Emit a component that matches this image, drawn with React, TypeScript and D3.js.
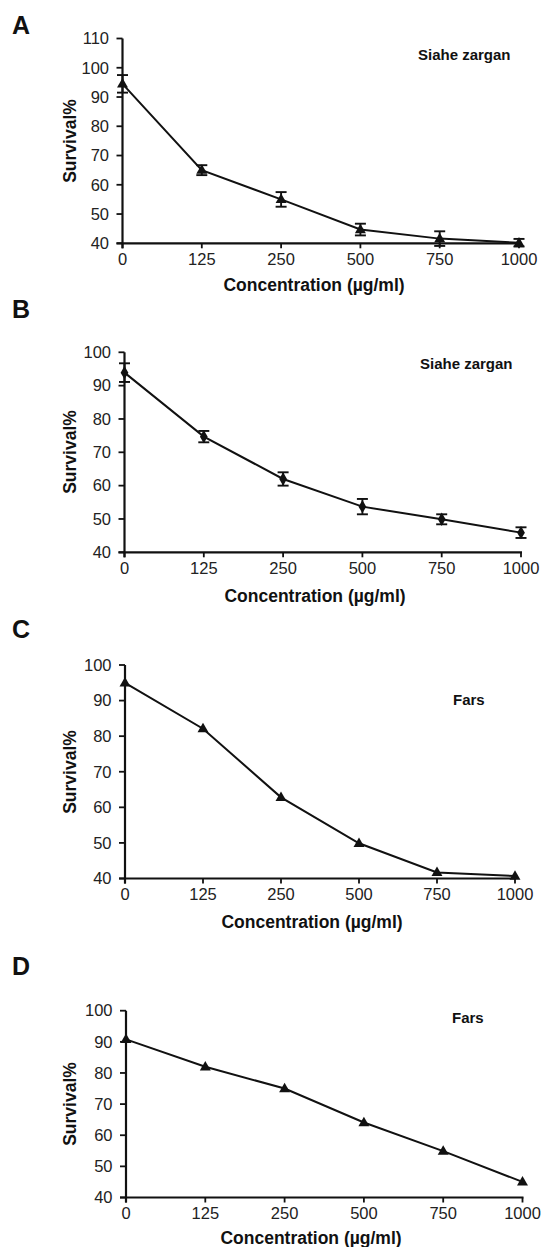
import React from "react";
import * as d3 from "d3";

const concentrations = ["0", "125", "250", "500", "750", "1000"];
const survivalA = [94.5, 65, 55, 44.7, 41.6, 40.2];
const errorA = [3, 1.7, 2.5, 2, 2.5, 1.3];
const survivalB = [93.9, 74.7, 62, 53.7, 49.9, 45.9];
const errorB = [2.8, 1.7, 2, 2.3, 1.5, 1.6];
const survivalC = [95, 82.1, 62.8, 49.9, 41.7, 40.7];
const survivalD = [90.8, 82, 75, 64.1, 54.9, 45];
const yTicksA = [40, 50, 60, 70, 80, 90, 100, 110];
const yTicks = [40, 50, 60, 70, 80, 90, 100];
const panelLetters = ["A", "B", "C", "D"];
const panelNotes = ["Siahe zargan", "Siahe zargan", "Fars", "Fars"];
const xTitle = "Concentration (\u00b5g/ml)";
const yTitle = "Survival%";

const FONT = "'Liberation Sans', Arial, Helvetica, sans-serif";

type PanelProps = {
  letter: string;
  note: string;
  values: number[];
  errors?: number[];
  ticks: number[];
  marker: "triangle" | "diamond";
  letterY: number;
  x0: number;
  x1: number;
  yTop: number;
  yBottom: number;
  noteX: number;
  noteY: number;
  titleX: number;
  titleY: number;
  yTitleY: number;
};

function Panel(p: PanelProps) {
  const x = d3.scalePoint<string>().domain(concentrations).range([p.x0, p.x1]);
  const yMax = p.ticks[p.ticks.length - 1];
  const y = d3.scaleLinear().domain([40, yMax]).range([p.yBottom, p.yTop]);
  const line = d3
    .line<number>()
    .x((_, i) => x(concentrations[i]) as number)
    .y((d) => y(d));
  const sym = d3
    .symbol()
    .type(p.marker === "triangle" ? d3.symbolTriangle : d3.symbolDiamond)
    .size(52)();
  const capW = 5.5;
  return (
    <g>
      <text x={12} y={p.letterY} fontFamily={FONT} fontWeight="bold" fontSize={25} fill="#111">
        {p.letter}
      </text>
      <line x1={p.x0} x2={p.x0} y1={p.yTop} y2={p.yBottom + 5} stroke="#111" strokeWidth={2.2} />
      {p.ticks.map((t) => (
        <g key={"yt" + t}>
          <line x1={p.x0 - 6} x2={p.x0} y1={y(t)} y2={y(t)} stroke="#111" strokeWidth={1.8} />
          <text
            x={p.x0 - 13.5}
            y={y(t)}
            dy="0.35em"
            textAnchor="end"
            fontFamily={FONT}
            fontSize={16.5}
            fill="#222"
          >
            {t}
          </text>
        </g>
      ))}
      <line x1={p.x0 - 6} x2={p.x1 + 1} y1={p.yBottom} y2={p.yBottom} stroke="#111" strokeWidth={2.2} />
      {concentrations.map((c) => (
        <g key={"xt" + c}>
          <line x1={x(c)} x2={x(c)} y1={p.yBottom} y2={p.yBottom + 5} stroke="#111" strokeWidth={1.8} />
          <text
            x={x(c)}
            y={p.yBottom + 16}
            dy="0.35em"
            textAnchor="middle"
            fontFamily={FONT}
            fontSize={16.5}
            fill="#222"
          >
            {c}
          </text>
        </g>
      ))}
      <text
        x={p.titleX}
        y={p.titleY}
        dy="0.35em"
        textAnchor="middle"
        fontFamily={FONT}
        fontWeight="bold"
        fontSize={17.5}
        fill="#111"
      >
        {xTitle}
      </text>
      <text
        transform={`translate(70,${p.yTitleY}) rotate(-90)`}
        dy="0.35em"
        textAnchor="middle"
        fontFamily={FONT}
        fontWeight="bold"
        fontSize={17.5}
        fill="#111"
      >
        {yTitle}
      </text>
      <text x={p.noteX} y={p.noteY} dy="0.35em" fontFamily={FONT} fontWeight="bold" fontSize={15} fill="#111">
        {p.note}
      </text>
      <path d={line(p.values) || ""} fill="none" stroke="#111" strokeWidth={2} />
      {p.errors &&
        p.values.map((v, i) => {
          const cx = x(concentrations[i]) as number;
          const e = p.errors![i];
          const top = y(v + e);
          const bot = y(v - e);
          return (
            <g key={"e" + i} stroke="#111" strokeWidth={1.9}>
              <line x1={cx} x2={cx} y1={top} y2={bot} />
              <line x1={cx - capW} x2={cx + capW} y1={top} y2={top} />
              <line x1={cx - capW} x2={cx + capW} y1={bot} y2={bot} />
            </g>
          );
        })}
      {p.values.map((v, i) => (
        <path
          key={"m" + i}
          d={sym || ""}
          transform={`translate(${x(concentrations[i])},${y(v) + (p.marker === "triangle" ? 0.5 : 0)})`}
          fill="#111"
        />
      ))}
    </g>
  );
}

export default function App() {
  return (
    <svg
      width={542}
      height={1247}
      style={{ position: "absolute", left: 0, top: 0, background: "#fff" }}
    >
      <rect width={542} height={1247} fill="#fff" />
      <Panel
        letter={panelLetters[0]}
        note={panelNotes[0]}
        values={survivalA}
        errors={errorA}
        ticks={yTicksA}
        marker="triangle"
        letterY={34}
        x0={122.5}
        x1={519}
        yTop={38.5}
        yBottom={243.3}
        noteX={418}
        noteY={55}
        titleX={314}
        titleY={285}
        yTitleY={141}
      />
      <Panel
        letter={panelLetters[1]}
        note={panelNotes[1]}
        values={survivalB}
        errors={errorB}
        ticks={yTicks}
        marker="diamond"
        letterY={318}
        x0={124.5}
        x1={521}
        yTop={352.3}
        yBottom={552.3}
        noteX={420}
        noteY={363.3}
        titleX={315}
        titleY={596}
        yTitleY={452}
      />
      <Panel
        letter={panelLetters[2]}
        note={panelNotes[2]}
        values={survivalC}
        ticks={yTicks}
        marker="triangle"
        letterY={638}
        x0={125}
        x1={515}
        yTop={665}
        yBottom={878.5}
        noteX={453}
        noteY={700}
        titleX={312}
        titleY={921.7}
        yTitleY={772}
      />
      <Panel
        letter={panelLetters[3]}
        note={panelNotes[3]}
        values={survivalD}
        ticks={yTicks}
        marker="triangle"
        letterY={975}
        x0={126}
        x1={522.5}
        yTop={1010.7}
        yBottom={1197.5}
        noteX={452}
        noteY={1018}
        titleX={311}
        titleY={1238}
        yTitleY={1104}
      />
    </svg>
  );
}
